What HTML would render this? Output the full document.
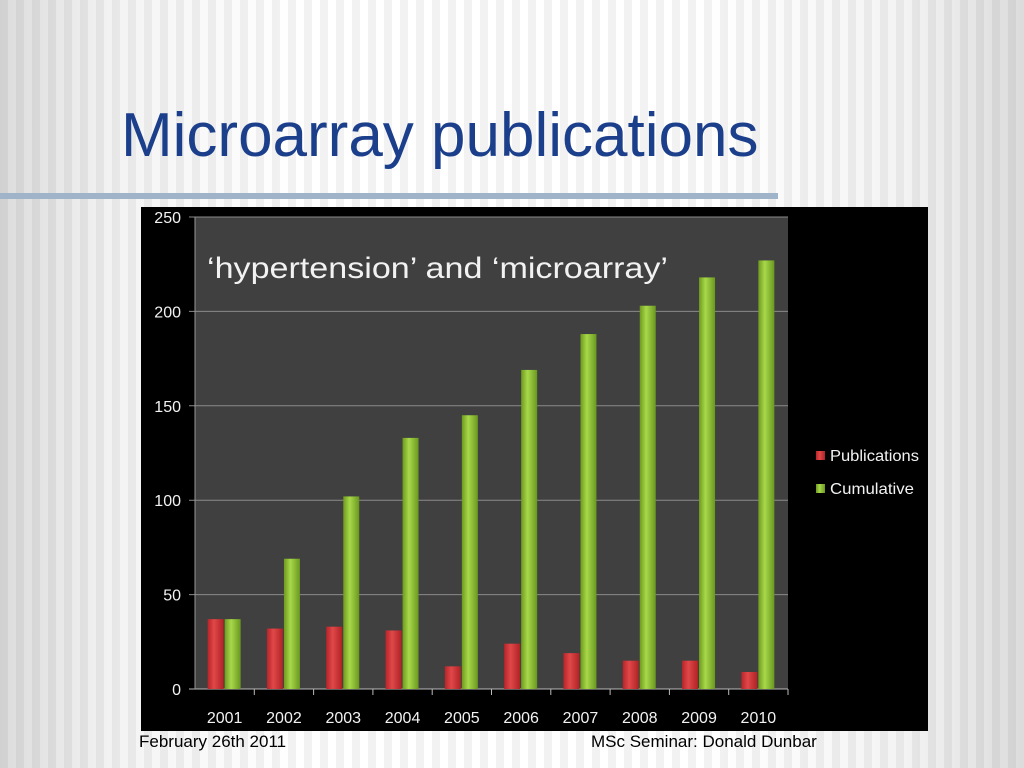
<!DOCTYPE html>
<html><head><meta charset="utf-8"><style>
body{margin:0;width:1024px;height:768px;overflow:hidden;position:relative;font-family:"Liberation Sans",sans-serif;
background:
repeating-linear-gradient(90deg,rgba(0,0,0,0.05) 0 8px,rgba(0,0,0,0) 8px 16px),
linear-gradient(90deg,#dcdcdc 0,#f4f4f4 120px,#fff 300px,#fff 700px,#f4f4f4 900px,#dcdcdc 1024px);}
#title{position:absolute;left:121px;top:100px;font-size:62px;color:#1c3f8c;margin:0;font-weight:normal;}
#rule{position:absolute;left:0;top:193px;width:778px;height:6px;background:#9fb3c9;}
.foot{position:absolute;top:732px;font-size:17px;color:#000;}
</style></head><body>
<h1 id="title">Microarray publications</h1>
<div id="rule"></div>
<svg id="chart" style="position:absolute;left:0;top:0" width="1024" height="768">
<defs>
<linearGradient id="gr" x1="0" x2="1"><stop offset="0" stop-color="#b8242a"/><stop offset="0.4" stop-color="#e04848"/><stop offset="1" stop-color="#b02226"/></linearGradient>
<linearGradient id="gg" x1="0" x2="1"><stop offset="0" stop-color="#6e9a1e"/><stop offset="0.4" stop-color="#a8d84a"/><stop offset="1" stop-color="#6a9820"/></linearGradient>
</defs>
<rect x="141" y="207" width="787" height="524" fill="#000"/>
<rect x="195" y="217" width="593" height="472" fill="#404040"/>
<g id="grid"></g><g id="bars"></g><g id="labels"></g>
<text x="207" y="278" font-size="30" textLength="461" lengthAdjust="spacingAndGlyphs" fill="#f2f2f2">‘hypertension’ and ‘microarray’</text>
<rect x="816" y="451" width="9" height="9" fill="url(#gr)"/>
<text x="830" y="461" font-size="16" textLength="89" lengthAdjust="spacingAndGlyphs" fill="#f2f2f2">Publications</text>
<rect x="816" y="484" width="9" height="9" fill="url(#gg)"/>
<text x="830" y="494" font-size="16" textLength="84" lengthAdjust="spacingAndGlyphs" fill="#f2f2f2">Cumulative</text>
</svg>
<div class="foot" style="left:139px">February 26th 2011</div>
<div class="foot" style="left:591px">MSc Seminar: Donald Dunbar</div>
<script>
const categories=["2001","2002","2003","2004","2005","2006","2007","2008","2009","2010"];
const publications=[37,32,33,31,12,24,19,15,15,9];
const cumulative=[37,69,102,133,145,169,188,203,218,227];
const yTicks=[0,50,100,150,200,250];
const X0=195,X1=788,Y0=689,Y1=217,YMAX=250;
const y=v=>Y0-(v/YMAX)*(Y0-Y1);
const cw=(X1-X0)/categories.length;
const xc=i=>X0+cw*(i+0.5);
const NS="http://www.w3.org/2000/svg";
const grid=document.getElementById('grid'),bars=document.getElementById('bars'),labels=document.getElementById('labels');
function mk(tag,attrs,parent){const e=document.createElementNS(NS,tag);for(const k in attrs)e.setAttribute(k,attrs[k]);parent.appendChild(e);return e;}
yTicks.forEach(t=>{
  const l=mk('line',{x1:X0-6,x2:X1,y1:y(t),y2:y(t),stroke:t===0?'#bbb':'#8a8a8a','stroke-width':1},grid);
  
  
  const tx=mk('text',{x:X0-14,y:y(t)+6,'font-size':16,fill:'#f2f2f2','text-anchor':'end'},labels);
  tx.textContent=t;
  
  
});
mk('line',{x1:X0,x2:X0,y1:Y1,y2:Y0,stroke:'#999'},grid);
categories.forEach((c,i)=>{
  const tk=mk('line',{x1:X0+cw*(i+1),x2:X0+cw*(i+1),y1:Y0,y2:Y0+6,stroke:'#bbb'},grid);
  
  
  const r=mk('rect',{x:xc(i)-17,y:y(publications[i]),width:16,height:Y0-y(publications[i]),fill:'url(#gr)'},bars);
  
  
  const g=mk('rect',{x:xc(i),y:y(cumulative[i]),width:16,height:Y0-y(cumulative[i]),fill:'url(#gg)'},bars);
  
  
  const tx=mk('text',{x:xc(i),y:723,'font-size':16,fill:'#f2f2f2','text-anchor':'middle'},labels);
  tx.textContent=c;
  
  
});
</script>
</body></html>
